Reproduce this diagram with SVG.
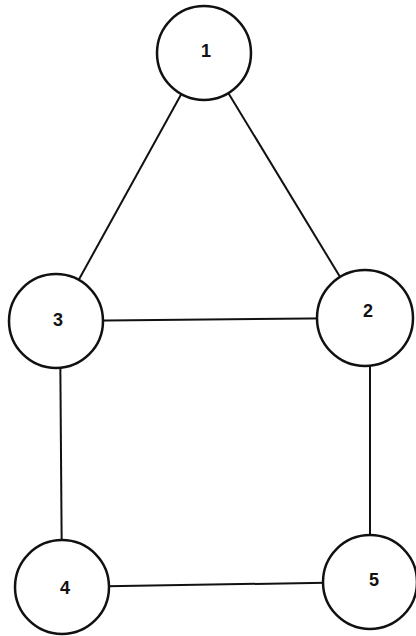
<svg xmlns="http://www.w3.org/2000/svg" width="416" height="636" viewBox="0 0 416 636">
<style>
.n circle{fill:#fff;stroke:#111;stroke-width:2.5}
.n text{font-family:"Liberation Sans",Arial,sans-serif;font-size:18px;font-weight:bold;fill:#111;text-anchor:middle;dominant-baseline:central}
.e line{stroke:#111;stroke-width:2}
</style>
<rect width="416" height="636" fill="#fff"/>
<g id="edges" class="e">
<line x1="204" y1="53" x2="56" y2="321"/>
<line x1="204" y1="53" x2="365" y2="318"/>
<line x1="56" y1="321" x2="365" y2="318"/>
<line x1="60" y1="321" x2="62" y2="587"/>
<line x1="370" y1="318" x2="370" y2="582"/>
<line x1="62" y1="587" x2="370" y2="582"/>
</g>
<g id="n1" class="n"><circle cx="204" cy="53" r="47"/><text x="206" y="51">1</text></g>
<g id="n3" class="n"><circle cx="56" cy="321" r="47"/><text x="58" y="320">3</text></g>
<g id="n2" class="n"><circle cx="365" cy="318" r="48"/><text x="368" y="311">2</text></g>
<g id="n4" class="n"><circle cx="62" cy="587" r="47"/><text x="65" y="588">4</text></g>
<g id="n5" class="n"><circle cx="370" cy="582" r="47"/><text x="374" y="580">5</text></g>
</svg>
